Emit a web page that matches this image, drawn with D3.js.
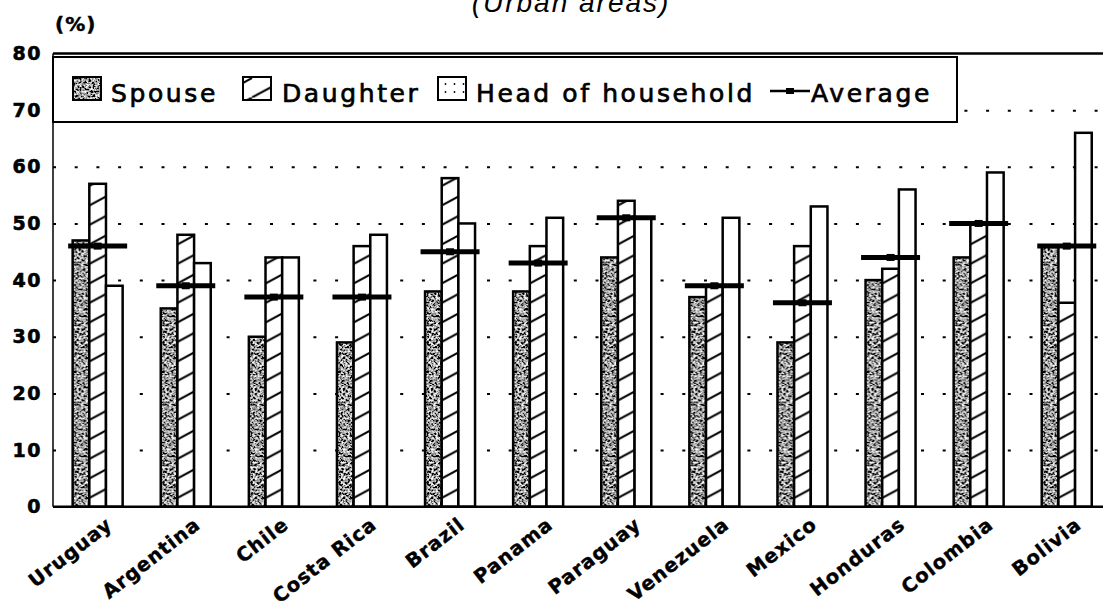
<!DOCTYPE html>
<html>
<head>
<meta charset="utf-8">
<script src="https://cdn.jsdelivr.net/npm/d3@7"></script>
<style>
  body { margin: 0; background: #fff; }
  svg { display: block; }
</style>
</head>
<body>
<svg id="chart" width="1103" height="608"></svg>
<script>
// data (urban areas, %)
const countries = ['Uruguay', 'Argentina', 'Chile', 'Costa Rica', 'Brazil', 'Panama',
  'Paraguay', 'Venezuela', 'Mexico', 'Honduras', 'Colombia', 'Bolivia'];
const spouse = [47, 35, 30, 29, 38, 38, 44, 37, 29, 40, 44, 46];
const daughter = [57, 48, 44, 46, 58, 46, 54, 39, 46, 42, 50, 36];
const head = [39, 43, 44, 48, 50, 51, 51, 51, 53, 56, 59, 66];
const average = [46, 39, 37, 37, 45, 43, 51, 39, 36, 44, 50, 46];
const yTicks = [0, 10, 20, 30, 40, 50, 60, 70, 80];
const seriesKeys = ['spouse', 'daughter', 'head'];
const legendLabels = ['Spouse', 'Daughter', 'Head of household', 'Average'];

const svg = d3.select('#chart'),
  width = +svg.attr('width'),
  height = +svg.attr('height');

const left = 53, step = 88.1, x0 = 53.6;
const fontFam = '"DejaVu Sans", sans-serif';

const x = d3.scaleBand()
  .domain(countries)
  .range([x0, x0 + step * countries.length])
  .paddingInner(0.4325)
  .paddingOuter(0.21625);

const xs = d3.scaleBand()
  .domain(seriesKeys)
  .range([0, x.bandwidth()]);

const y = d3.scaleLinear()
  .domain([0, 80])
  .range([506.7, 53.5]);

const rows = countries.map((c, i) => ({
  country: c,
  spouse: spouse[i],
  daughter: daughter[i],
  head: head[i],
  average: average[i],
}));

// ---- patterns
const defs = svg.append('defs');

const noise = defs.append('filter').attr('id', 'grain')
  .attr('x', 0).attr('y', 0).attr('width', 1).attr('height', 1);
noise.append('feTurbulence')
  .attr('type', 'fractalNoise')
  .attr('baseFrequency', 0.45)
  .attr('numOctaves', 3)
  .attr('seed', 7);
noise.append('feColorMatrix')
  .attr('type', 'matrix')
  .attr('values', '2.8 0 0 0 -1.05  2.8 0 0 0 -1.05  2.8 0 0 0 -1.05  0 0 0 0 1');

const spPat = defs.append('pattern').attr('id', 'spousePat')
  .attr('patternUnits', 'userSpaceOnUse')
  .attr('width', 140).attr('height', 140);
spPat.append('rect').attr('width', 140).attr('height', 140).attr('fill', '#555');
spPat.append('rect').attr('width', 140).attr('height', 140).attr('filter', 'url(#grain)');

const hw = 36, hh = 19.5;
const hatch = defs.append('pattern').attr('id', 'hatchPat')
  .attr('patternUnits', 'userSpaceOnUse')
  .attr('width', hw).attr('height', hh);
hatch.append('rect').attr('width', hw).attr('height', hh).attr('fill', '#fff');
[-hw, 0, hw].forEach(dx => {
  hatch.append('line')
    .attr('x1', dx).attr('y1', hh).attr('x2', dx + hw).attr('y2', 0)
    .attr('stroke', '#000').attr('stroke-width', 2);
});

// dotted column centred on every head-of-household bar
const headCenter0 = x(countries[0]) + xs('head') + xs.bandwidth() / 2;
const dots = defs.append('pattern').attr('id', 'dotPat')
  .attr('patternUnits', 'userSpaceOnUse')
  .attr('x', headCenter0 - step / 2).attr('y', y(0) - 5)
  .attr('width', step).attr('height', 10);
dots.append('rect').attr('width', step).attr('height', 10).attr('fill', '#fff');
dots.append('circle').attr('cx', step / 2).attr('cy', 5).attr('r', 1.1).attr('fill', '#000');

const dotsSmall = defs.append('pattern').attr('id', 'dotSmall')
  .attr('patternUnits', 'userSpaceOnUse')
  .attr('width', 9).attr('height', 8);
dotsSmall.append('rect').attr('width', 9).attr('height', 8).attr('fill', '#fff');
dotsSmall.append('circle').attr('cx', 4.5).attr('cy', 4).attr('r', 0.9).attr('fill', '#000');

const fills = { spouse: 'url(#spousePat)', daughter: 'url(#hatchPat)', head: 'url(#dotPat)' };

// ---- y axis with dotted grid
const yAxis = d3.axisLeft(y)
  .tickValues(yTicks)
  .tickSize(-(width - left))
  .tickPadding(11)
  .tickFormat(d3.format('d'));

const gy = svg.append('g')
  .attr('transform', `translate(${left},0)`)
  .call(yAxis);
gy.select('.domain').remove();
gy.selectAll('.tick line')
  .attr('stroke', '#000')
  .attr('stroke-width', 2)
  .attr('stroke-dasharray', '3,18.7')
  .attr('display', d => (d === 0 || d === 80) ? 'none' : null);
gy.selectAll('.tick text')
  .attr('fill', '#000')
  .attr('stroke', '#000')
  .attr('stroke-width', 0.6)
  .style('font-family', fontFam)
  .style('font-weight', 'bold')
  .style('font-size', '19px')
  .style('letter-spacing', '1.5px');

// ---- bars
const groups = svg.append('g').selectAll('g')
  .data(rows)
  .join('g')
  .attr('transform', d => `translate(${x(d.country)},0)`);

groups.selectAll('rect')
  .data(d => seriesKeys.map(k => ({ key: k, value: d[k] })))
  .join('rect')
  .attr('x', d => xs(d.key))
  .attr('y', d => y(d.value))
  .attr('width', xs.bandwidth())
  .attr('height', d => y(0) - y(d.value))
  .attr('fill', d => fills[d.key])
  .attr('stroke', '#000')
  .attr('stroke-width', 2.5);

// ---- average markers
const avg = svg.append('g').selectAll('g')
  .data(rows)
  .join('g');
avg.append('line')
  .attr('x1', d => x(d.country) - 4.5)
  .attr('x2', d => x(d.country) + x.bandwidth() + 4.5)
  .attr('y1', d => y(d.average))
  .attr('y2', d => y(d.average))
  .attr('stroke', '#000')
  .attr('stroke-width', 5);
avg.append('rect')
  .attr('x', d => x(d.country) + x.bandwidth() / 2 - 4)
  .attr('y', d => y(d.average) - 3.5)
  .attr('width', 8)
  .attr('height', 7)
  .attr('fill', '#000');

// ---- frame
svg.append('line')
  .attr('x1', left).attr('x2', width)
  .attr('y1', y(80)).attr('y2', y(80))
  .attr('stroke', '#000').attr('stroke-width', 2.5);
svg.append('line')
  .attr('x1', left).attr('x2', left)
  .attr('y1', y(80)).attr('y2', y(0))
  .attr('stroke', '#000').attr('stroke-width', 1.5);
svg.append('line')
  .attr('x1', left).attr('x2', width)
  .attr('y1', y(0)).attr('y2', y(0))
  .attr('stroke', '#000').attr('stroke-width', 2.5);

// ---- x labels
svg.append('g').selectAll('text')
  .data(countries)
  .join('text')
  .attr('transform', d => `translate(${x(d) + x.bandwidth() / 2 + 16},527) rotate(-38)`)
  .attr('text-anchor', 'end')
  .attr('stroke', '#000')
  .attr('stroke-width', 0.4)
  .style('font-family', fontFam)
  .style('font-weight', 'bold')
  .style('font-size', '19.5px')
  .style('letter-spacing', '1px')
  .text(d => d);

// ---- legend
const lg = svg.append('g');
lg.append('rect')
  .attr('x', left).attr('y', 57)
  .attr('width', 957 - left).attr('height', 65)
  .attr('fill', '#fff')
  .attr('stroke', '#000')
  .attr('stroke-width', 2);

const legendItems = [
  { label: legendLabels[0], sx: 73, tx: 111, fill: 'url(#spousePat)' },
  { label: legendLabels[1], sx: 243, tx: 282, fill: 'url(#hatchPat)' },
  { label: legendLabels[2], sx: 438, tx: 476, fill: 'url(#dotSmall)' },
  { label: legendLabels[3], sx: 770, tx: 811, fill: null },
];

legendItems.forEach(it => {
  if (it.fill) {
    lg.append('rect')
      .attr('x', it.sx).attr('y', 77)
      .attr('width', 28).attr('height', 23)
      .attr('fill', it.fill)
      .attr('stroke', '#000')
      .attr('stroke-width', 2);
  } else {
    lg.append('line')
      .attr('x1', it.sx).attr('x2', it.sx + 40)
      .attr('y1', 91).attr('y2', 91)
      .attr('stroke', '#000').attr('stroke-width', 2.5);
    lg.append('rect')
      .attr('x', it.sx + 16).attr('y', 88)
      .attr('width', 8).attr('height', 6)
      .attr('fill', '#000');
  }
  lg.append('text')
    .attr('x', it.tx).attr('y', 102)
    .attr('stroke', '#000')
    .attr('stroke-width', 0.7)
    .style('font-family', fontFam)
    .style('font-size', '25px')
    .style('letter-spacing', '2.6px')
    .text(it.label);
});

// ---- titles (subtitle is clipped by the top edge, as in the source)
svg.append('text')
  .attr('x', 571).attr('y', 12)
  .attr('text-anchor', 'middle')
  .style('font-family', '"Liberation Sans", Arial, sans-serif')
  .style('font-style', 'italic')
  .style('font-size', '28px')
  .style('letter-spacing', '2px')
  .text('(Urban areas)');

svg.append('text')
  .attr('x', 55).attr('y', 31)
  .attr('stroke', '#000')
  .attr('stroke-width', 0.5)
  .style('font-family', fontFam)
  .style('font-weight', 'bold')
  .style('font-size', '20px')
  .style('letter-spacing', '1px')
  .text('(%)');
</script>
</body>
</html>
